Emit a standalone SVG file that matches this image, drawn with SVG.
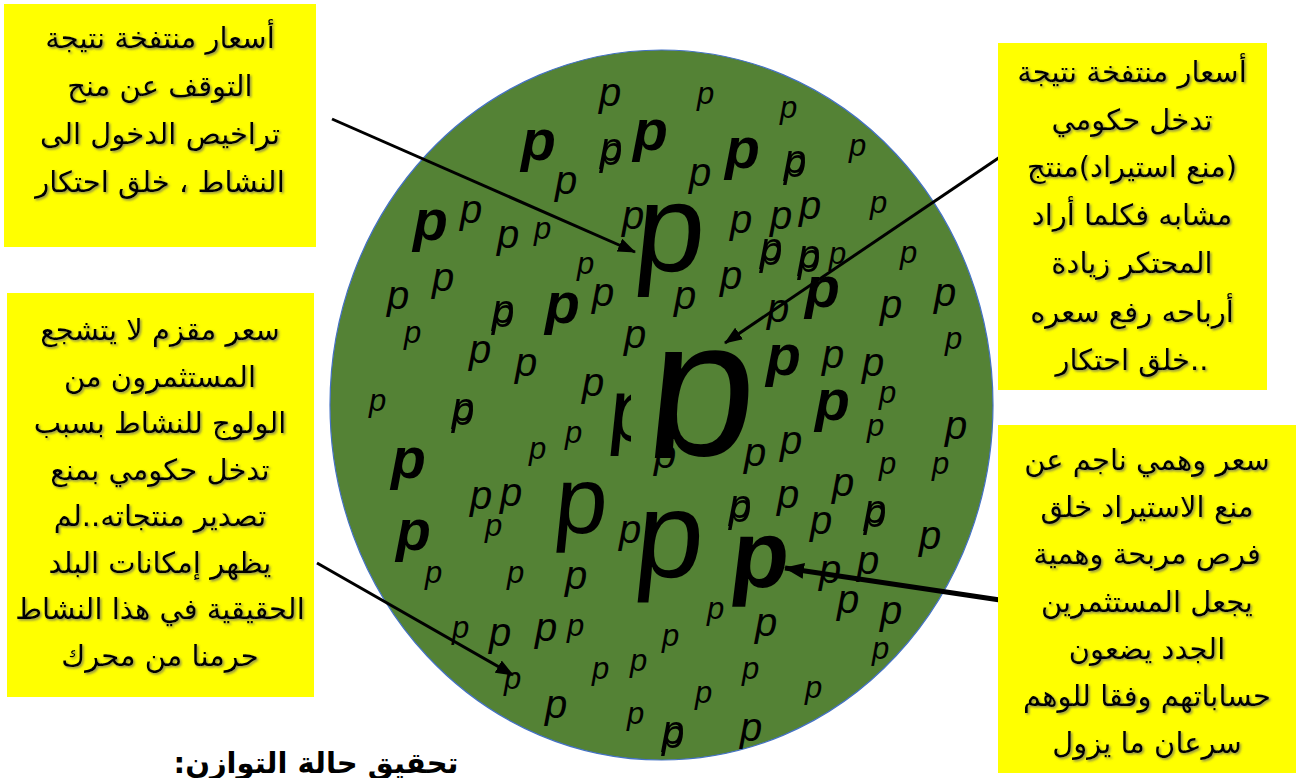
<svg xmlns="http://www.w3.org/2000/svg" width="1303" height="778" viewBox="0 0 1303 778">
  <style>
    .box { fill: #FFFF00; }
    .ar { font-family: "DejaVu Sans", sans-serif; font-size: 29px; fill: #000; text-anchor: middle; direction: rtl; filter: url(#shade); }
    .ps { font-family: "Liberation Sans", Arial, sans-serif; font-style: italic; font-size: 40px; fill: #000; }
    .px { font-family: "Liberation Sans", Arial, sans-serif; font-style: italic; font-size: 31px; fill: #000; }
    .pb { font-family: "Liberation Sans", Arial, sans-serif; font-style: italic; font-weight: bold; font-size: 57px; fill: #000; }
    .pl { font-family: "Liberation Sans", Arial, sans-serif; fill: #000; }
    .dbl { filter: url(#doubled); }
    .arrow { stroke: #000; stroke-width: 3; fill: none; marker-end: url(#head); }
    .arrow.thick { stroke-width: 5; marker-end: url(#headThick); }
    .title { font-family: "DejaVu Sans", sans-serif; font-size: 29px; font-weight: bold; fill: #000; text-anchor: middle; direction: rtl; }
  </style>
  <defs>
    <filter id="shade" x="-10%" y="-20%" width="120%" height="150%">
      <feDropShadow dx="1.5" dy="1.5" stdDeviation="1" flood-color="#666" flood-opacity="0.75"/>
    </filter>
    <!-- double-struck glyph: the letter plus a copy shifted down -->
    <filter id="doubled" x="-20%" y="-20%" width="140%" height="150%">
      <feOffset in="SourceGraphic" dx="0" dy="4" result="shifted"/>
      <feMerge><feMergeNode in="shifted"/><feMergeNode in="SourceGraphic"/></feMerge>
    </filter>
    <marker id="head" markerUnits="userSpaceOnUse" markerWidth="18" markerHeight="14" refX="17" refY="7" orient="auto">
      <path d="M0,0 L18,7 L0,14 Z" fill="#000"/>
    </marker>
    <marker id="headThick" markerUnits="userSpaceOnUse" markerWidth="20" markerHeight="16" refX="19" refY="8" orient="auto">
      <path d="M0,0 L20,8 L0,16 Z" fill="#000"/>
    </marker>
    <clipPath id="clipCenter"><rect x="600" y="300" width="200" height="158"/></clipPath>
    <clipPath id="clipLeft"><rect x="590" y="380" width="41" height="76"/></clipPath>
  </defs>

  <!-- market disc -->
  <g id="market">
    <ellipse cx="661.5" cy="405" rx="331.5" ry="355" fill="#548235" stroke="#4472C4" stroke-width="1.2"/>

    <!-- small scattered p -->
    <g id="smallP">
      <text class="ps" x="599" y="106">p</text>
      <text class="ps dbl" x="600" y="161">p</text>
      <text class="ps" x="555" y="194">p</text>
      <text class="px" x="697" y="104">p</text>
      <text class="px" x="780" y="118">p</text>
      <text class="ps" x="689" y="186">p</text>
      <text class="ps dbl" x="784" y="173">p</text>
      <text class="px" x="849" y="156">p</text>
      <text class="ps" x="460" y="223">p</text>
      <text class="ps" x="497" y="248">p</text>
      <text class="px" x="534" y="239">p</text>
      <text class="ps" x="622" y="229">p</text>
      <text class="px" x="577" y="274">p</text>
      <text class="ps" x="432" y="291">p</text>
      <text class="ps" x="387" y="309">p</text>
      <text class="px" x="404" y="343">p</text>
      <text class="ps dbl" x="492" y="323">p</text>
      <text class="ps" x="592" y="306">p</text>
      <text class="ps" x="469" y="363">p</text>
      <text class="ps" x="515" y="376">p</text>
      <text class="ps" x="582" y="396">p</text>
      <text class="ps" x="624" y="348">p</text>
      <text class="px" x="369" y="411">p</text>
      <text class="ps dbl" x="452" y="421">p</text>
      <text class="ps" x="730" y="233">p</text>
      <text class="ps" x="770" y="229">p</text>
      <text class="ps" x="799" y="219">p</text>
      <text class="px" x="870" y="213">p</text>
      <text class="ps dbl" x="760" y="261">p</text>
      <text class="ps dbl" x="798" y="268">p</text>
      <text class="px" x="829" y="264">p</text>
      <text class="px" x="900" y="263">p</text>
      <text class="ps" x="720" y="289">p</text>
      <text class="ps" x="674" y="309">p</text>
      <text class="ps" x="934" y="306">p</text>
      <text class="ps" x="880" y="318">p</text>
      <text class="ps" x="767" y="322">p</text>
      <text class="ps" x="822" y="368">p</text>
      <text class="ps" x="862" y="376">p</text>
      <text class="px" x="945" y="349">p</text>
      <text class="px" x="879" y="403">p</text>
      <text class="px" x="867" y="436">p</text>
      <text class="ps" x="945" y="439">p</text>
      <text class="ps" x="744" y="466">p</text>
      <text class="ps" x="780" y="454">p</text>
      <text class="px" x="879" y="474">p</text>
      <text class="px" x="932" y="474">p</text>
      <text class="ps" x="832" y="496">p</text>
      <text class="ps dbl" x="729" y="518">p</text>
      <text class="ps" x="777" y="508">p</text>
      <text class="ps" x="810" y="534">p</text>
      <text class="ps dbl" x="864" y="523">p</text>
      <text class="ps" x="919" y="549">p</text>
      <text class="ps" x="819" y="583">p</text>
      <text class="ps" x="857" y="574">p</text>
      <text class="px" x="707" y="619">p</text>
      <text class="ps" x="755" y="636">p</text>
      <text class="ps" x="837" y="613">p</text>
      <text class="ps" x="880" y="624">p</text>
      <text class="px" x="872" y="659">p</text>
      <text class="px" x="662" y="646">p</text>
      <text class="px" x="742" y="679">p</text>
      <text class="px" x="695" y="703">p</text>
      <text class="px" x="805" y="698">p</text>
      <text class="ps" x="740" y="741">p</text>
      <text class="ps dbl" x="662" y="744">p</text>
      <text class="px" x="529" y="459">p</text>
      <text class="px" x="565" y="443">p</text>
      <text class="ps" x="470" y="509">p</text>
      <text class="ps" x="500" y="506">p</text>
      <text class="px" x="485" y="536">p</text>
      <text class="ps" x="619" y="543">p</text>
      <text class="px" x="425" y="583">p</text>
      <text class="px" x="507" y="583">p</text>
      <text class="ps" x="565" y="589">p</text>
      <text class="px" x="452" y="638">p</text>
      <text class="ps" x="489" y="646">p</text>
      <text class="ps" x="535" y="641">p</text>
      <text class="px" x="567" y="636">p</text>
      <text class="px" x="504" y="689">p</text>
      <text class="px" x="592" y="679">p</text>
      <text class="px" x="630" y="671">p</text>
      <text class="ps" x="545" y="718">p</text>
      <text class="px" x="627" y="724">p</text>
      <text class="ps" x="654" y="468">p</text>
    </g>

    <!-- bold p -->
    <g id="boldP">
      <text class="pb" x="521" y="160">p</text>
      <text class="pb" x="633" y="150">p</text>
      <text class="pb" x="725" y="168">p</text>
      <text class="pb" x="413" y="240">p</text>
      <text class="pb" x="545" y="323">p</text>
      <text class="pb" x="805" y="307">p</text>
      <text class="pb" x="766" y="375">p</text>
      <text class="pb" x="815" y="420">p</text>
      <text class="pb" x="391" y="478">p</text>
      <text class="pb" x="396" y="550">p</text>
    </g>

    <!-- large p -->
    <g id="largeP">
      <text class="pl" font-size="125" transform="translate(632,271) skewX(-6)">p</text>
      <text class="pl" font-size="95" transform="translate(552,533) skewX(-6)">p</text>
      <g clip-path="url(#clipLeft)">
        <text class="pl" font-size="90" transform="translate(606,441) skewX(-6)">p</text>
      </g>
      <text class="pl" font-size="123" transform="translate(632,577) skewX(-6)">p</text>
      <g clip-path="url(#clipCenter)">
        <text class="pl" font-size="195" transform="translate(642,455) skewX(-6)">p</text>
      </g>
      <text class="pl" font-size="95" font-weight="bold" transform="translate(728,587) skewX(-7)">p</text>
    </g>
  </g>

  <!-- connectors -->
  <g id="connectors">
    <line class="arrow" x1="332" y1="119" x2="635" y2="252"/>
    <line class="arrow" x1="1000" y1="157" x2="725" y2="343"/>
    <line class="arrow" x1="317" y1="563" x2="513" y2="675"/>
    <line class="arrow thick" x1="1000" y1="600" x2="785" y2="568"/>
  </g>

  <!-- note: entry licences -->
  <g id="noteTopLeft">
    <rect class="box" x="4" y="4" width="312" height="243"/>
    <text class="ar" x="160" y="48">أسعار منتفخة نتيجة</text>
    <text class="ar" x="160" y="96">التوقف عن منح</text>
    <text class="ar" x="160" y="144">تراخيص الدخول الى</text>
    <text class="ar" x="160" y="192">النشاط ، خلق احتكار</text>
  </g>

  <!-- note: import ban -->
  <g id="noteTopRight">
    <rect class="box" x="998" y="43" width="269" height="347"/>
    <text class="ar" x="1132" y="82">أسعار منتفخة نتيجة</text>
    <text class="ar" x="1132" y="130">تدخل حكومي</text>
    <text class="ar" x="1132" y="177">(منع استيراد)منتج</text>
    <text class="ar" x="1132" y="225">مشابه فكلما أراد</text>
    <text class="ar" x="1132" y="273">المحتكر زيادة</text>
    <text class="ar" x="1132" y="322">أرباحه رفع سعره</text>
    <text class="ar" x="1132" y="370">..خلق احتكار</text>
  </g>

  <!-- note: subsidised price -->
  <g id="noteLeft">
    <rect class="box" x="7" y="293" width="307" height="404"/>
    <text class="ar" x="160" y="340">سعر مقزم لا يتشجع</text>
    <text class="ar" x="160" y="387">المستثمرون من</text>
    <text class="ar" x="160" y="433">الولوج للنشاط بسبب</text>
    <text class="ar" x="160" y="480">تدخل حكومي بمنع</text>
    <text class="ar" x="160" y="526">تصدير منتجاته..لم</text>
    <text class="ar" x="160" y="573">يظهر إمكانات البلد</text>
    <text class="ar" x="160" y="619">الحقيقية في هذا النشاط</text>
    <text class="ar" x="160" y="666">حرمنا من محرك</text>
  </g>

  <!-- note: illusory price -->
  <g id="noteBottomRight">
    <rect class="box" x="998" y="425" width="298" height="348"/>
    <text class="ar" x="1147" y="470">سعر وهمي ناجم عن</text>
    <text class="ar" x="1147" y="517">منع الاستيراد خلق</text>
    <text class="ar" x="1147" y="564">فرص مربحة وهمية</text>
    <text class="ar" x="1147" y="612">يجعل المستثمرين</text>
    <text class="ar" x="1147" y="659">الجدد يضعون</text>
    <text class="ar" x="1147" y="706">حساباتهم وفقا للوهم</text>
    <text class="ar" x="1147" y="753">سرعان ما يزول</text>
  </g>

  <text class="title" x="316" y="773">تحقيق حالة التوازن:</text>
</svg>
